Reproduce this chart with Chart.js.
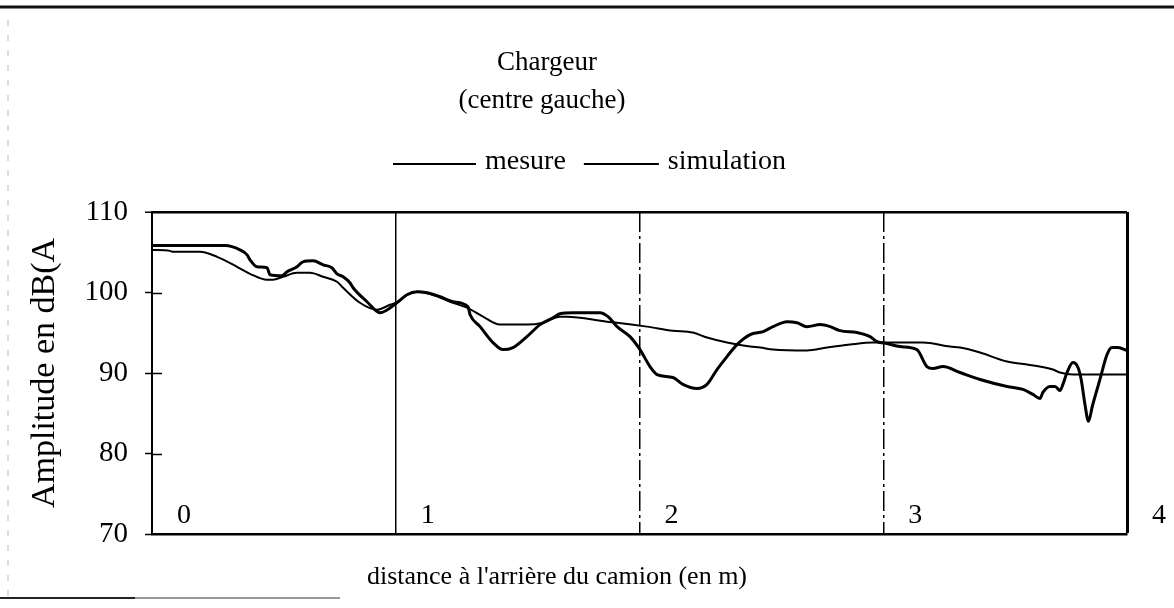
<!DOCTYPE html>
<html>
<head>
<meta charset="utf-8">
<script src="https://cdn.jsdelivr.net/npm/chart.js@4.4.1/dist/chart.umd.min.js"></script>
<style>
html,body{margin:0;padding:0;background:#fff;}
canvas{display:block;}
</style>
</head>
<body>
<canvas id="c" width="1174" height="608"></canvas>
<script>
// ---- texts ----
const titleLines = ['Chargeur', '(centre gauche)'];
const seriesNames = ['mesure', 'simulation'];
const xTitle = "distance à l'arrière du camion (en m)";
const yTitle = 'Amplitude en dB(A';
const xTicks = [0, 1, 2, 3, 4];
const yTicks = [70, 80, 90, 100, 110];

// ---- series: mesure ----
const mesureX = [0, 0.30, 0.361, 0.390, 0.402, 0.431, 0.472, 0.484, 0.533, 0.554,
  0.595, 0.619, 0.661, 0.702, 0.738, 0.759, 0.784, 0.812, 0.825, 0.882,
  0.935, 1.005, 1.046, 1.087, 1.128, 1.182, 1.235, 1.296, 1.305, 1.346,
  1.399, 1.440, 1.481, 1.538, 1.592, 1.645, 1.674, 1.727, 1.838, 1.871,
  1.908, 1.961, 2.002, 2.043, 2.072, 2.137, 2.178, 2.236, 2.277, 2.318,
  2.359, 2.400, 2.454, 2.507, 2.548, 2.605, 2.646, 2.687, 2.741, 2.782,
  2.823, 2.892, 2.946, 2.974, 3.015, 3.069, 3.138, 3.179, 3.204, 3.245,
  3.315, 3.397, 3.508, 3.573, 3.614, 3.643, 3.655, 3.684, 3.705, 3.725,
  3.737, 3.754, 3.778, 3.799, 3.812, 3.828, 3.842, 3.858, 3.889, 3.918,
  3.938, 3.963, 4.0];
const mesureY = [105.83, 105.83, 105.29, 104.67, 104.06, 103.19, 103.07, 102.20, 102.07, 102.57,
  103.19, 103.81, 103.93, 103.44, 103.07, 102.32, 101.95, 101.21, 100.59, 98.85,
  97.49, 98.73, 99.72, 100.09, 99.97, 99.47, 98.85, 98.24, 97.24, 95.76,
  93.78, 92.91, 93.16, 94.52, 96.01, 96.87, 97.37, 97.49, 97.49, 97.00,
  95.76, 94.52, 92.91, 90.80, 89.81, 89.44, 88.58, 88.08, 88.58, 90.43,
  92.04, 93.53, 94.77, 95.14, 95.76, 96.38, 96.25, 95.76, 96.01, 95.76,
  95.26, 95.02, 94.52, 93.90, 93.65, 93.28, 92.91, 90.80, 90.56, 90.80,
  90.06, 89.20, 88.33, 87.96, 87.34, 86.84, 87.59, 88.33, 88.33, 87.83,
  88.58, 90.06, 91.30, 90.68, 89.20, 86.00, 84.00, 85.90, 89.20, 92.29,
  93.16, 93.16, 92.79];

// ---- series: simulation ----
const simX = [0, 0.074, 0.086, 0.197, 0.267, 0.349, 0.402, 0.472, 0.496, 0.537,
  0.595, 0.648, 0.702, 0.759, 0.784, 0.853, 0.923, 0.977, 1.009, 1.046,
  1.087, 1.153, 1.223, 1.292, 1.358, 1.427, 1.538, 1.604, 1.674, 1.702,
  1.866, 1.908, 2.031, 2.137, 2.219, 2.277, 2.359, 2.454, 2.495, 2.548,
  2.687, 2.769, 2.864, 2.958, 3.015, 3.163, 3.274, 3.315, 3.397, 3.508,
  3.590, 3.696, 3.725, 3.778, 4.0];
const simY = [105.29, 105.17, 105.05, 105.05, 104.43, 103.19, 102.32, 101.58, 101.58, 101.95,
  102.45, 102.45, 101.95, 101.33, 100.59, 98.73, 97.86, 98.48, 98.85, 99.72,
  100.09, 99.72, 98.85, 98.11, 97.00, 96.01, 96.01, 96.25, 97.00, 97.00,
  96.38, 96.25, 95.76, 95.26, 95.02, 94.40, 93.78, 93.28, 93.16, 92.91,
  92.79, 93.16, 93.53, 93.78, 93.78, 93.78, 93.28, 93.16, 92.54, 91.42,
  91.05, 90.43, 90.06, 89.81, 89.81];

const FONT = '"Liberation Serif", "Times New Roman", serif';
const toPts = (xs, ys) => xs.map((x, i) => ({x: x, y: ys[i]}));

const decor = {
  id: 'decor',
  beforeDraw(chart) {
    const ctx = chart.ctx;
    ctx.save();
    // scanned page frame
    ctx.strokeStyle = '#111';
    ctx.lineWidth = 3;
    ctx.beginPath(); ctx.moveTo(0, 7); ctx.lineTo(chart.width, 7); ctx.stroke();
    ctx.strokeStyle = '#bbb';
    ctx.lineWidth = 1;
    ctx.setLineDash([6, 9]);
    ctx.beginPath(); ctx.moveTo(8, 20); ctx.lineTo(8, 598); ctx.stroke();
    ctx.setLineDash([]);
    ctx.strokeStyle = '#222';
    ctx.lineWidth = 2;
    ctx.beginPath(); ctx.moveTo(0, 598); ctx.lineTo(135, 598); ctx.stroke();
    ctx.strokeStyle = '#999';
    ctx.beginPath(); ctx.moveTo(135, 598); ctx.lineTo(340, 598); ctx.stroke();
    ctx.restore();
  },
  afterDraw(chart) {
    const ctx = chart.ctx;
    const ys = chart.scales.y;
    ctx.save();
    ctx.fillStyle = '#000';
    ctx.textBaseline = 'middle';
    // title
    ctx.font = '27px ' + FONT;
    ctx.textAlign = 'center';
    ctx.fillText(titleLines[0], 547, 63);
    ctx.fillText(titleLines[1], 542, 101);
    // x axis title
    ctx.font = '26px ' + FONT;
    ctx.fillText(xTitle, 557, 577);
    // legend
    ctx.font = '28px ' + FONT;
    ctx.textAlign = 'left';
    const lineLens = [83, 75];
    let lx = 393;
    chart.data.datasets.forEach((ds, i) => {
      ctx.strokeStyle = '#000';
      ctx.lineWidth = 2;
      ctx.beginPath(); ctx.moveTo(lx, 164); ctx.lineTo(lx + lineLens[i], 164); ctx.stroke();
      lx += lineLens[i] + 9;
      ctx.fillText(ds.label, lx, 162);
      lx += ctx.measureText(ds.label).width + 18;
    });
    // inner part of y tick marks
    ctx.strokeStyle = '#000';
    ctx.lineWidth = 1.5;
    yTicks.slice(1, -1).forEach(v => {
      const py = Math.round(ys.getPixelForValue(v)) + 0.5;
      ctx.beginPath(); ctx.moveTo(chart.chartArea.left, py); ctx.lineTo(chart.chartArea.left + 10, py); ctx.stroke();
    });
    ctx.restore();
  }
};

const dashedAt = [2, 3];

new Chart(document.getElementById('c'), {
  type: 'line',
  data: {
    datasets: [
      {
        label: seriesNames[0],
        data: toPts(mesureX, mesureY),
        borderColor: '#000',
        borderWidth: 3,
        pointRadius: 0,
        cubicInterpolationMode: 'monotone',
        fill: false
      },
      {
        label: seriesNames[1],
        data: toPts(simX, simY),
        borderColor: '#000',
        borderWidth: 2,
        pointRadius: 0,
        cubicInterpolationMode: 'monotone',
        fill: false
      }
    ]
  },
  options: {
    responsive: false,
    animation: false,
    devicePixelRatio: 1,
    layout: { padding: { top: 212, right: 47, bottom: 0, left: 0 } },
    plugins: {
      legend: { display: false },
      title: { display: false },
      tooltip: { enabled: false }
    },
    scales: {
      x: {
        type: 'linear',
        min: xTicks[0],
        max: xTicks[xTicks.length - 1],
        afterBuildTicks: s => { s.ticks = xTicks.map(v => ({value: v})); },
        afterFit: s => { s.height = 74; s.paddingLeft = 0; s.paddingRight = 0; },
        ticks: {
          color: '#000',
          font: { family: FONT, size: 28 },
          align: 'start',
          labelOffset: 25,
          mirror: true,
          padding: 2,
          maxRotation: 0,
          autoSkip: false
        },
        grid: {
          drawTicks: false,
          drawOnChartArea: true,
          color: c => (c.tick && c.tick.value === xTicks[0]) ? 'rgba(0,0,0,0)' : '#000',
          lineWidth: c => (c.tick && c.tick.value === xTicks[xTicks.length - 1]) ? 3 : 1.5
        },
        border: {
          display: true,
          color: '#000',
          width: 2.5,
          dash: c => (c.tick && dashedAt.includes(c.tick.value)) ? [20, 4, 3, 4] : []
        },
        title: { display: false, text: xTitle }
      },
      y: {
        type: 'linear',
        min: yTicks[0],
        max: yTicks[yTicks.length - 1],
        afterBuildTicks: s => { s.ticks = yTicks.map(v => ({value: v})); },
        afterFit: s => { s.width = 152; s.paddingTop = 0; s.paddingBottom = 0; },
        ticks: {
          color: '#000',
          font: { family: FONT, size: 29 },
          padding: 17
        },
        grid: {
          drawTicks: true,
          tickLength: 7,
          tickWidth: 1.5,
          tickColor: '#000',
          drawOnChartArea: true,
          color: c => (c.tick && c.tick.value === yTicks[yTicks.length - 1]) ? '#000' : 'rgba(0,0,0,0)',
          lineWidth: c => (c.tick && c.tick.value === yTicks[yTicks.length - 1]) ? 2.5 : 1
        },
        border: { display: true, color: '#000', width: 2 },
        title: {
          display: true,
          text: yTitle,
          color: '#000',
          font: { family: FONT, size: 34 },
          padding: { top: 25, bottom: 0 }
        }
      }
    }
  },
  plugins: [decor]
});
</script>
</body>
</html>
